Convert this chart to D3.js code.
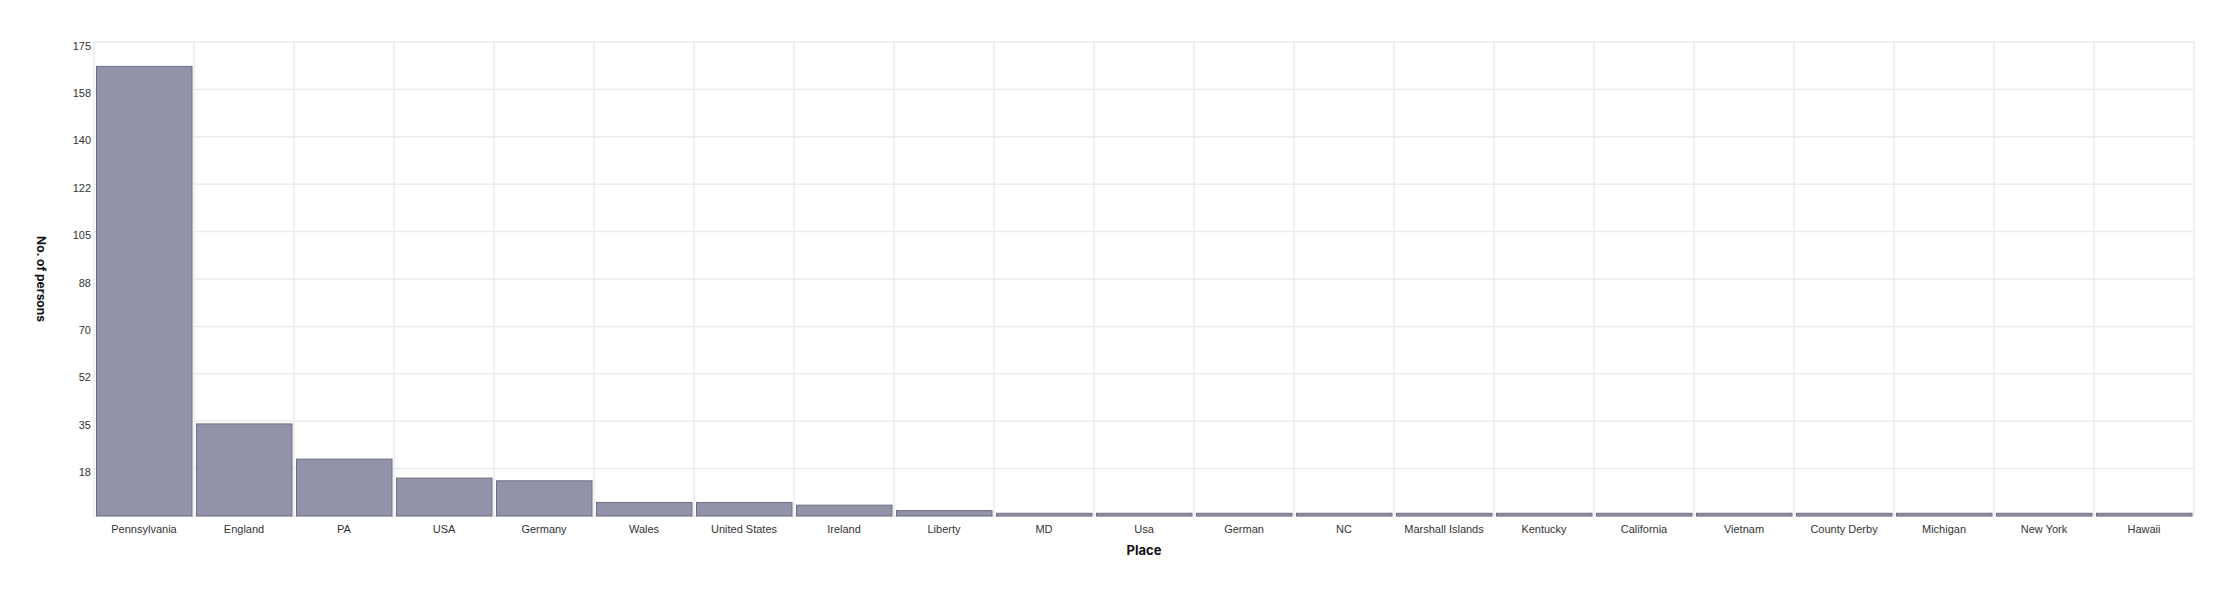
<!DOCTYPE html>
<html>
<head>
<meta charset="utf-8">
<script src="https://cdn.jsdelivr.net/npm/d3@7"></script>
<style>
    html, body { margin: 0; padding: 0; background: #fff; }
    svg { display: block; font-family: Inter, "Noto Sans", sans-serif; }
</style>
</head>
<body>
<svg id="chart" width="2234" height="594"></svg>
<script>
// data
const places = ["Pennsylvania", "England", "PA", "USA", "Germany", "Wales", "United States", "Ireland",
    "Liberty", "MD", "Usa", "German", "NC", "Marshall Islands", "Kentucky", "California", "Vietnam",
    "County Derby", "Michigan", "New York", "Hawaii"];
const persons = [166, 34, 21, 14, 13, 5, 5, 4, 2, 1, 1, 1, 1, 1, 1, 1, 1, 1, 1, 1, 1];
const yTickValues = [0, 17.5, 35, 52.5, 70, 87.5, 105, 122.5, 140, 157.5, 175];
const yTickLabels = ["", "18", "35", "52", "70", "88", "105", "122", "140", "158", "175"];

const margin = {top: 42, right: 40, bottom: 78, left: 94};
const width = 2234, height = 594;

const svg = d3.select("#chart");

const x = d3.scaleBand()
    .domain(places)
    .range([margin.left, width - margin.right])
    .padding(0);

const y = d3.scaleLinear()
    .domain([0, 175])
    .range([height - margin.bottom, margin.top]);

const gridColor = "#ebebeb";

// horizontal grid lines
svg.append("g")
    .selectAll("line")
    .data(yTickValues)
    .join("line")
    .attr("x1", margin.left)
    .attr("x2", width - margin.right)
    .attr("y1", d => y(d))
    .attr("y2", d => y(d))
    .style("stroke", gridColor)
    .style("stroke-width", 1.5);

// vertical grid lines at the band edges
const edges = places.map(p => x(p)).concat([x.range()[1]]);
svg.append("g")
    .selectAll("line")
    .data(edges)
    .join("line")
    .attr("x1", d => d)
    .attr("x2", d => d)
    .attr("y1", margin.top)
    .attr("y2", height - margin.bottom)
    .style("stroke", gridColor)
    .style("stroke-width", 1.5);

// bars
svg.append("g")
    .selectAll("rect")
    .data(places)
    .join("rect")
    .attr("x", d => x(d) + 2.5)
    .attr("width", x.bandwidth() - 4.5)
    .attr("y", (d, i) => y(persons[i]))
    .attr("height", (d, i) => y(0) - y(persons[i]))
    .style("fill", "#9293a8")
    .style("stroke", "#6d6d82")
    .style("stroke-width", 1);

// y axis labels
const yAxis = d3.axisLeft(y)
    .tickValues(yTickValues)
    .tickFormat((d, i) => yTickLabels[i])
    .tickSize(0)
    .tickPadding(3);

svg.append("g")
    .attr("transform", `translate(${margin.left},0)`)
    .call(yAxis)
    .call(g => g.select(".domain").remove())
    .call(g => g.selectAll("text")
        .attr("dy", "0.65em")
        .style("font-size", "11px")
        .style("fill", "#333"));

// x axis labels
const xAxis = d3.axisBottom(x)
    .tickSize(0)
    .tickPadding(9);

svg.append("g")
    .attr("transform", `translate(0,${height - margin.bottom})`)
    .call(xAxis)
    .call(g => g.select(".domain").remove())
    .call(g => g.selectAll("text")
        .style("font-size", "11px")
        .style("fill", "#333"));

// axis titles
svg.append("text")
    .attr("x", (margin.left + width - margin.right) / 2)
    .attr("y", 555)
    .attr("text-anchor", "middle")
    .style("font-size", "13px")
    .style("font-weight", "bold")
    .style("fill", "#111")
    .text("Place");

svg.append("text")
    .attr("transform", `translate(37,${(margin.top + height - margin.bottom) / 2}) rotate(90)`)
    .attr("text-anchor", "middle")
    .style("font-size", "12px")
    .style("font-weight", "bold")
    .style("fill", "#111")
    .text("No. of persons");
</script>
</body>
</html>
